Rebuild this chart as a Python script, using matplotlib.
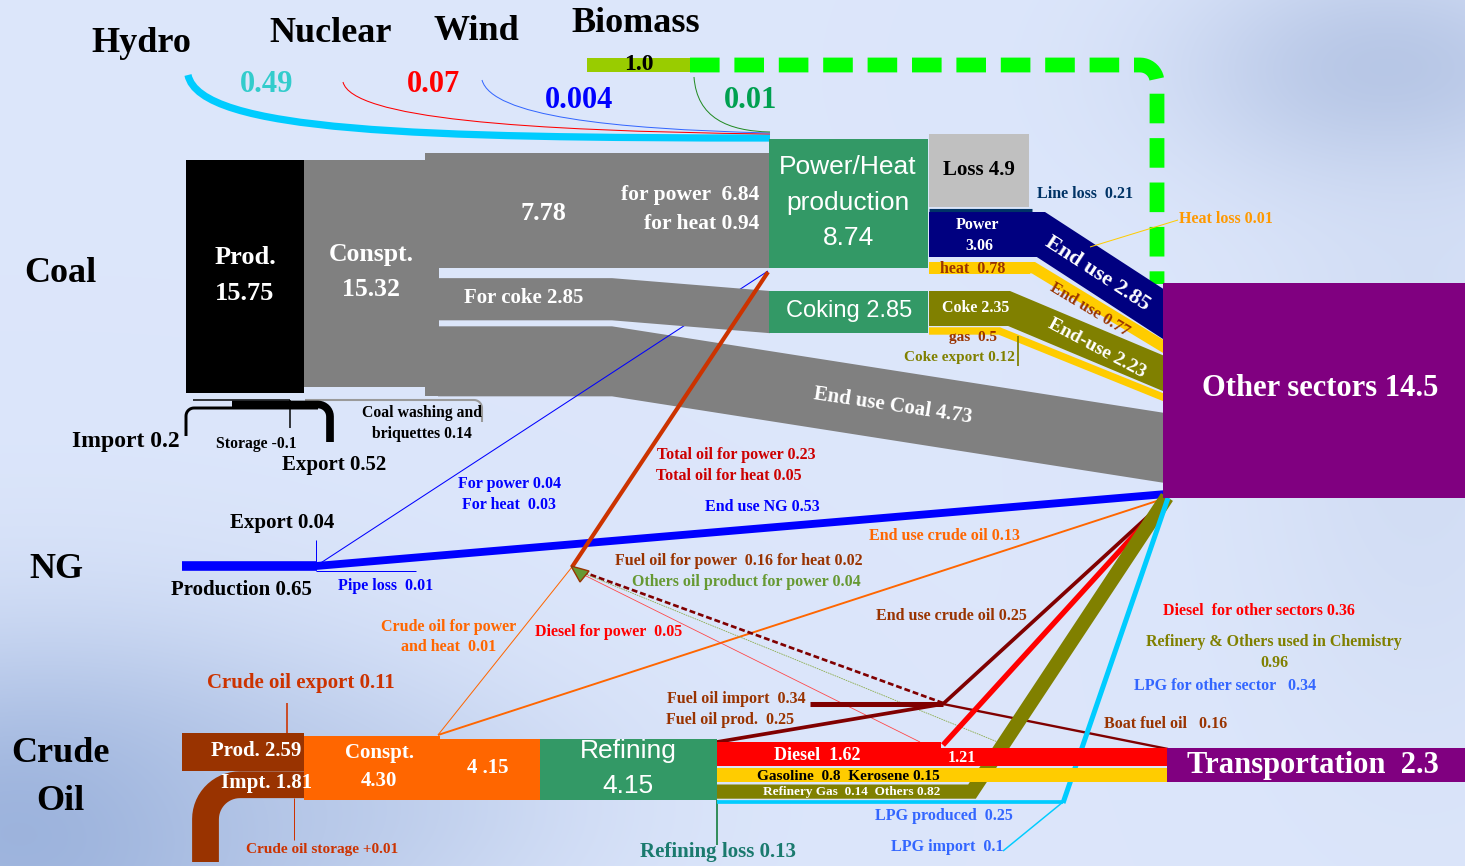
import numpy as np
import matplotlib
matplotlib.use("Agg")
import matplotlib.pyplot as plt
from matplotlib.patches import Rectangle, Polygon, PathPatch
from matplotlib.path import Path

# ---------------- data (energy flows) ----------------
renew_names = ["Hydro", "Nuclear", "Wind", "Biomass"]
renew_values = [0.49, 0.07, 0.004, 0.01]
biomass_total = 1.0

coal_prod = 15.75
coal_consumption = 15.32
coal_import = 0.2
coal_storage = -0.1
coal_export = 0.52
coal_washing = 0.14
coal_to_power_heat = 7.78
coal_for_power, coal_for_heat = 6.84, 0.94
coal_for_coke = 2.85
coal_end_use = 4.73

power_heat_total = 8.74
loss_total = 4.9
line_loss = 0.21
power_out = 3.06
heat_out = 0.78
power_end_use = 2.85
heat_end_use = 0.77
heat_loss = 0.01
coking_total = 2.85
coke_out = 2.35
coke_gas = 0.5
coke_export = 0.12
coke_end_use = 2.23

ng_production = 0.65
ng_export = 0.04
ng_pipe_loss = 0.01
ng_for_power, ng_for_heat = 0.04, 0.03
ng_end_use = 0.53

crude_prod = 2.59
crude_import = 1.81
crude_export = 0.11
crude_storage = 0.01
crude_consumption = 4.30
crude_to_refining = 4.15
refining_total = 4.15
refining_loss = 0.13
crude_power_heat = 0.01
crude_end_use = 0.13
fuel_oil_end_use = 0.25

oil_for_power, oil_for_heat = 0.23, 0.05
fuel_oil_power, fuel_oil_heat = 0.16, 0.02
other_oil_power = 0.04
diesel_power = 0.05

diesel_total = 1.62
diesel_transport = 1.21
diesel_other = 0.36
gasoline = 0.8
kerosene = 0.15
refinery_gas = 0.14
refinery_others = 0.82
chem_use = 0.96
lpg_produced = 0.25
lpg_import = 0.1
lpg_other = 0.34
fuel_oil_import = 0.34
fuel_oil_prod = 0.25
boat_fuel_oil = 0.16

other_sectors_total = 14.5
transport_total = 2.3

# ---------------- layout / style ----------------
W, H = 1465, 866
S = 14.8          # pixels per unit of energy
PT = 0.72         # points per pixel at dpi 100
SERIF = "Liberation Serif"
SANS = "Liberation Sans"

fig = plt.figure(figsize=(W / 100, H / 100), dpi=100)
ax = fig.add_axes([0, 0, 1, 1])
ax.set_xlim(0, W)
ax.set_ylim(H, 0)
ax.axis("off")

# soft cloudy background
yy, xx = np.mgrid[0:H, 0:W]
img = np.ones((H, W, 3)) * np.array([0.863, 0.902, 0.984])
def blob(cx, cy, rx, ry, col, a):
    g = a * np.exp(-(((xx - cx) / rx) ** 2 + ((yy - cy) / ry) ** 2))
    for k in range(3):
        img[..., k] = img[..., k] * (1 - g) + col[k] * g
blob(1390, 70, 200, 110, (0.66, 0.73, 0.87), 0.75)
blob(1420, 420, 160, 320, (0.78, 0.83, 0.93), 0.5)
blob(40, 830, 330, 190, (0.56, 0.66, 0.84), 0.85)
blob(330, 800, 260, 120, (0.70, 0.77, 0.90), 0.5)
ax.imshow(img, extent=(0, W, H, 0), aspect="auto", zorder=0)


def LW(v, mn=1.0):
    return max(abs(v) * S, mn) * PT


def line(xs, ys, color, v, mn=1.0, z=2, **kw):
    ax.plot(xs, ys, color=color, lw=LW(v, mn), solid_capstyle="butt",
            solid_joinstyle="miter", dash_capstyle="butt", zorder=z, **kw)


def rect(x, y, w, h, color, z=3, **kw):
    ax.add_patch(Rectangle((x, y), w, h, facecolor=color, edgecolor="none", zorder=z, **kw))


def bez(p0, p1, p2, p3, color, v, mn=1.0, z=2):
    path = Path([p0, p1, p2, p3], [Path.MOVETO, Path.CURVE4, Path.CURVE4, Path.CURVE4])
    ax.add_patch(PathPatch(path, fill=False, edgecolor=color, lw=LW(v, mn),
                           capstyle="butt", zorder=z))


def bent_band(x0, ytop, v, xk, x1, y1top, color, z=2):
    w = v * S
    m = (y1top - ytop) / (x1 - xk)
    n = np.hypot(1, m)
    xkb = xk - w * (n - 1) / m
    pts = [(x0, ytop), (xk, ytop), (x1, y1top), (x1, y1top + w * n),
           (xkb, ytop + w), (x0, ytop + w)]
    ax.add_patch(Polygon(pts, closed=True, facecolor=color, edgecolor="none", zorder=z))
    return y1top + w * n


def T(x, y, s, size, color="black", family=SERIF, weight="bold", ha="center", rot=0, z=10):
    ax.text(x, y, s, fontsize=size, color=color, family=family, weight=weight,
            ha=ha, va="center", rotation=rot, rotation_mode="anchor", zorder=z)


# ---------------- renewables (top) ----------------
rc = ["#00ccff", "#ff0000", "#3366ff", "#228b22"]
bez((188, 75), (200, 132), (420, 138), (770, 138), rc[0], renew_values[0])
bez((343, 82), (352, 118), (520, 131), (770, 134), rc[1], renew_values[1])
bez((482, 80), (492, 116), (610, 129), (770, 133), rc[2], renew_values[2])
bez((694, 77), (697, 118), (728, 131), (770, 132), rc[3], renew_values[3])

rect(587, 65 - biomass_total * S / 2, 103, biomass_total * S, "#99cc00", z=4)
th = np.linspace(0, np.pi / 2, 12)
gx = [690] + list(1140 + 17 * np.sin(th)) + [1157]
gy = [65] + list(82 - 17 * np.cos(th)) + [284]
ax.plot(gx, gy, color="#00ff00", lw=LW(biomass_total), dashes=(2.0, 1.0),
        dash_capstyle="butt", zorder=2)

# ---------------- coal ----------------
rect(186, 160, 118, coal_prod * S, "black")
rect(304, 160, 134, coal_consumption * S, "#808080")
y_a = 153
y_b = y_a + coal_to_power_heat * S
y_c = y_b + 10
y_d = y_c + coal_for_coke * S
y_e = y_d + 6
y_f = y_e + coal_end_use * S
rect(425, y_a, 345, y_b - y_a, "#808080")
rect(425, y_a, 14, y_f - y_a, "#808080")
ax.add_patch(Polygon([(438, y_c), (612, y_c), (770, 291), (770, 291 + coal_for_coke * S),
                      (612, y_d), (438, y_d)], facecolor="#808080", edgecolor="none", zorder=3))
ax.add_patch(Polygon([(438, y_e), (612, y_e), (1165, 413), (1165, 413 + coal_end_use * S),
                      (612, y_f), (438, y_f)], facecolor="#808080", edgecolor="none", zorder=2))

# coal small flows below the boxes
line([193, 290], [400, 400], "black", coal_storage, mn=1.5)
line([290, 290], [400, 428], "black", coal_storage, mn=1.5)
ca = np.linspace(0, np.pi / 2, 10)
ex = [232] + list(318 + 12 * np.sin(ca)) + [330]
ey = [404.5] + list(416.5 - 12 * np.cos(ca)) + [442]
line(ex, ey, "black", coal_export, z=3)
ix = [186] + list(194 - 8 * np.cos(ca)) + [318]
iy = [436] + list(416 - 8 * np.sin(ca)) + [408]
line(ix, iy, "black", coal_import, z=3)
wx = [305] + list(474 + 8 * np.sin(ca)) + [482]
wy = [400] + list(408 - 8 * np.cos(ca)) + [422]
line(wx, wy, "#9a9a9a", coal_washing)

# ---------------- natural gas ----------------
line([182, 317], [566, 566], "#0000ff", ng_production, z=3)
line([316, 1166], [566, 494], "#0000ff", ng_end_use, z=3)
line([316, 316], [540, 566], "#0000ff", ng_export)
line([316, 416], [571, 571], "#0000ff", ng_pipe_loss)
line([316, 768], [566, 271], "#0000ff", ng_for_power + ng_for_heat)

# ---------------- oil flows to power / other sectors ----------------
line([572, 768], [567, 272], "#cc3300", oil_for_power + oil_for_heat, z=3)
line([438, 572], [735, 567], "#ff6600", crude_power_heat)
line([438, 1166], [735, 498], "#ff6600", crude_end_use)
line([943, 583], [703, 572], "#800000", fuel_oil_power + fuel_oil_heat, dashes=(2.2, 1.1))
line([920, 578], [742, 572], "#ff4444", diesel_power, mn=0.8)
line([1005, 578], [745, 571], "#88aa44", other_oil_power, mn=0.8, linestyle=(0, (2, 1)))
ax.add_patch(Polygon([(571, 566), (589, 571), (580, 582)], facecolor="#669933",
                     edgecolor="#993300", lw=1, zorder=4))

line([810, 943], [704, 704], "#800000", fuel_oil_import, z=3)
line([717, 943], [742, 704], "#800000", fuel_oil_prod, z=3)
line([943, 1166], [704, 500], "#800000", fuel_oil_end_use, z=3)
line([943, 1168], [704, 749], "#800000", boat_fuel_oil, z=3)
line([943, 1166], [745, 500], "#ff0000", diesel_other, z=3)
line([717, 972, 1167], [791.6, 791.6, 497], "#808000", chem_use, z=3)
line([717, 1063], [802, 802], "#00ccff", lpg_produced, z=3)
line([1063, 1168], [803, 498], "#00ccff", lpg_other, z=3)
line([1003, 1063], [851, 802], "#00ccff", lpg_import, z=3)

# ---------------- crude oil ----------------
rect(182, 733, 122, crude_prod * S, "#993300")
yi = 733 + crude_prod * S + crude_import * S / 2
aa = np.linspace(0, np.pi / 2, 16)
r = 240 - 205.5
px = [305] + list(240 - r * np.sin(aa)) + [205.5]
py = [yi] + list(yi + r - r * np.cos(aa)) + [862]
line(px, py, "#993300", crude_import, z=3)
line([287, 287], [703, 733], "#cc3300", crude_export)
line([294, 294], [798, 840], "#cc3300", crude_storage)
rect(304, 800 - crude_consumption * S, 136, crude_consumption * S, "#ff6600")
rect(439, 800 - crude_to_refining * S, 102, crude_to_refining * S, "#ff6600")
rect(540, 800 - refining_total * S, 177, refining_total * S, "#339966")
line([717, 717], [800, 845], "#2e8b57", refining_loss, mn=1.2)

rect(717, 742, 224, diesel_total * S, "#ff0000")
rect(940, 766 - diesel_transport * S, 228, diesel_transport * S, "#ff0000")
rect(717, 768, 451, (gasoline + kerosene) * S, "#ffcc00")

# ---------------- power / heat and coking ----------------
rect(769, 139, 159, power_heat_total * S, "#339966", z=5)
rect(769, 291, 159, coking_total * S, "#339966", z=5)
rect(929, 134, 100, loss_total * S, "#c0c0c0", z=5)
line([929, 1032], [210, 210], "#003366", line_loss, z=4)

rect(929, 212, 116, power_out * S, "#000080")
yb = bent_band(929, 212, power_end_use, 1045, 1165, 290, "#000080")
rect(929, 262, 101, heat_out * S, "#ffcc00")
yb = bent_band(929, 262, heat_end_use, 1035, 1165, yb + 0.5, "#ffcc00")
rect(929, 291, 81, coke_out * S, "#808000")
yb = bent_band(929, 291, coke_end_use, 1010, 1165, yb + 2, "#808000")
bent_band(929, 291 + coke_out * S + 1.5, coke_gas, 1000, 1165, yb + 2, "#ffcc00")
line([1018, 1018], [336, 366], "#808000", coke_export)
line([1090, 1178], [247, 220], "#ffcc00", heat_loss)

# ---------------- sinks ----------------
rect(1163, 283, W - 1163, other_sectors_total * S, "#800080", z=6)
rect(1167, 748, W - 1167, transport_total * S, "#800080", z=6)

# ---------------- text ----------------
T(141, 44, renew_names[0], 26)
T(331, 33, renew_names[1], 26)
T(476, 32, renew_names[2], 26)
T(636, 23, renew_names[3], 26)
T(267, 85, f"{renew_values[0]}", 22, "#33cccc")
T(434, 85, f"{renew_values[1]}", 22, "#ff0000")
T(579, 100, f"{renew_values[2]}", 22, "#0000ff")
T(751, 100, f"{renew_values[3]}", 22, "#00a050")
T(639, 64, f"{biomass_total}", 17)

T(60, 273, "Coal", 26)
T(56, 569, "NG", 26)
T(60, 753, "Crude", 26)
T(60, 802, "Oil", 26)

T(245, 258, "Prod.", 19, "white")
T(245, 293, f"{coal_prod}", 19, "white")
T(371, 255, "Conspt.", 18.5, "white")
T(371, 290, f"{coal_consumption}", 18.5, "white")
T(543, 214, f"{coal_to_power_heat}", 19, "white")
T(759, 195, f"for power  {coal_for_power}", 15.5, "white", ha="right")
T(759, 224, f"for heat {coal_for_heat}", 15.5, "white", ha="right")
T(524, 298, f"For coke {coal_for_coke}", 15, "white")
T(893, 406, f"End use Coal {coal_end_use}", 15, "white", rot=-8.5)
T(126, 441, f"Import {coal_import}", 17)
T(256, 444, f"Storage {coal_storage}", 11.3)
T(334, 465, f"Export {coal_export}", 15)
T(422, 413, "Coal washing and", 11.3)
T(422, 434, f"briquettes {coal_washing}", 11.3)

T(848, 167, "Power/Heat", 19, "white", family=SANS, weight="normal")
T(848, 203, "production", 19, "white", family=SANS, weight="normal")
T(848, 238, f"{power_heat_total}", 19, "white", family=SANS, weight="normal")
T(849, 311, f"Coking {coking_total}", 17, "white", family=SANS, weight="normal")
T(979, 170, f"Loss {loss_total}", 15)
T(1085, 194, f"Line loss  {line_loss}", 11.5, "#003366")
T(977, 225, "Power", 11.5, "white")
T(979, 246, f"{power_out}", 11.5, "white")
T(973, 269, f"heat  {heat_out}", 11.5, "#993300")
T(976, 308, f"Coke {coke_out}", 11.5, "white")
T(973, 337, f"gas  {coke_gas}", 11, "#993300")
T(959, 357, f"Coke export {coke_export}", 11, "#808000")
T(1097, 274, f"End use {power_end_use}", 16, "white", rot=-33)
T(1090, 310, f"End use {heat_end_use}", 12, "#993300", rot=-31)
T(1097, 348, f"End-use {coke_end_use}", 14, "white", rot=-28)
T(1226, 219, f"Heat loss {heat_loss}", 11.5, "#ff9900")
T(1320, 389, f"Other sectors {other_sectors_total}", 22, "white")

T(736, 455, f"Total oil for power {oil_for_power}", 11.5, "#cc0000")
T(729, 476, f"Total oil for heat {oil_for_heat}", 11.5, "#cc0000")
T(509, 484, f"For power {ng_for_power}", 11.5, "#0000ff")
T(509, 505, f"For heat  {ng_for_heat}", 11.5, "#0000ff")
T(762, 507, f"End use NG {ng_end_use}", 11.5, "#0000ff")
T(282, 523, f"Export {ng_export}", 15)
T(944, 536, f"End use crude oil {crude_end_use}", 11.5, "#ff6600")
T(739, 561, f"Fuel oil for power  {fuel_oil_power} for heat {fuel_oil_heat}", 11.5, "#993300")
T(746, 582, f"Others oil product for power {other_oil_power}", 11.5, "#669933")
T(241, 590, f"Production {ng_production}", 15)
T(386, 586, f"Pipe loss  {ng_pipe_loss}", 11.5, "#0000ff")
T(1259, 611, f"Diesel  for other sectors {diesel_other}", 11.5, "#ff0000")
T(951, 616, f"End use crude oil {fuel_oil_end_use}", 11.5, "#993300")
T(449, 627, "Crude oil for power", 11.5, "#ff6600")
T(449, 647, f"and heat  {crude_power_heat}", 11.5, "#ff6600")
T(609, 632, f"Diesel for power  {diesel_power}", 11.5, "#ff0000")
T(1274, 642, "Refinery & Others used in Chemistry", 11.5, "#808000")
T(1274, 663, f"{chem_use}", 11.5, "#808000")
T(301, 683, f"Crude oil export {crude_export}", 15, "#cc3300")
T(1225, 686, f"LPG for other sector   {lpg_other}", 11.5, "#3366ff")
T(736, 699, f"Fuel oil import  {fuel_oil_import}", 11.5, "#993300")
T(730, 720, f"Fuel oil prod.  {fuel_oil_prod}", 11.5, "#993300")
T(1166, 724, f"Boat fuel oil   {boat_fuel_oil}", 11.5, "#993300")

T(256, 751, f"Prod. {crude_prod}", 15, "white")
T(267, 783, f"Impt. {crude_import}", 15, "white")
T(379, 753, "Conspt.", 15, "white")
T(379, 781, f"{crude_consumption:.2f}", 15, "white")
T(488, 768, "4 .15", 15, "white")
T(628, 751, "Refining", 19, "white", family=SANS, weight="normal")
T(628, 786, f"{refining_total}", 19, "white", family=SANS, weight="normal")
T(817, 755, f"Diesel  {diesel_total}", 13, "white")
T(962, 758, f"{diesel_transport}", 11.5, "white")
T(848, 776, f"Gasoline  {gasoline}  Kerosene {kerosene}", 11, "black")
T(852, 792, f"Refinery Gas  {refinery_gas}  Others {refinery_others}", 9.5, "white")
T(1313, 765, f"Transportation  {transport_total}", 22, "white")
T(944, 816, f"LPG produced  {lpg_produced}", 11.5, "#3366ff")
T(947, 847, f"LPG import  {lpg_import}", 11.5, "#3366ff")
T(322, 849, f"Crude oil storage +{crude_storage}", 11, "#cc3300")
T(718, 852, f"Refining loss {refining_loss}", 15, "#1a7a6e")

fig.savefig("out.png", dpi=100)
